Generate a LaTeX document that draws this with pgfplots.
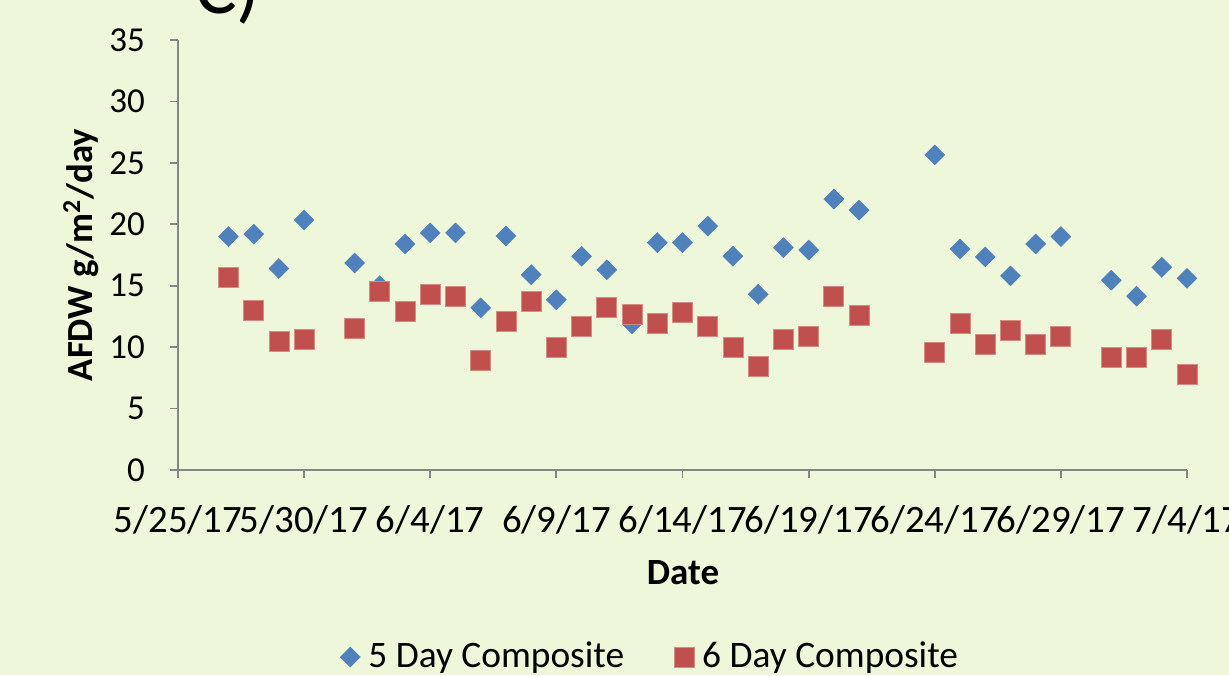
\documentclass[border=0pt]{standalone}
\usepackage{fontspec}
\setmainfont{Carlito}
\usepackage{pgfplots}
\pgfplotsset{compat=1.18}
\definecolor{bg}{RGB}{238,247,218}
\definecolor{bl}{RGB}{79,129,189}
\definecolor{rd}{RGB}{192,80,77}
\definecolor{rdb}{RGB}{214,140,130}
\definecolor{axc}{RGB}{134,134,134}
\begin{document}
\fontsize{17.5}{21}\selectfont
\begin{tikzpicture}
\clip (0,0) rectangle (614.5pt,337.5pt);
\fill[bg] (0,0) rectangle (614.5pt,337.5pt);
\node[anchor=base west, font=\fontsize{39}{44}\selectfont, inner sep=0] at (97.5pt,330.5pt) {C)};
\begin{axis}[
  at={(89pt,102.5pt)}, anchor=south west,
  scale only axis, width=504.5pt, height=215pt,
  xmin=0, xmax=40, ymin=0, ymax=35,
  axis lines*=left,
  axis line style={-, draw=axc, line width=0.9pt},
  tick align=outside, major tick length=4pt,
  tick style={draw=axc, line width=0.9pt},
  xtick={0,5,...,40},
  xticklabels={5/25/17,5/30/17,6/4/17,6/9/17,6/14/17,6/19/17,6/24/17,6/29/17,7/4/17},
  ytick={0,5,...,35},
  /pgf/number format/assume math mode=true,
  xticklabel style={font=\fontsize{19.4}{23}\selectfont, anchor=base, yshift=-27pt},
  yticklabel style={font=\fontsize{17.5}{21}\selectfont, xshift=-6.5pt},
  xlabel={\textbf{Date}},
  ylabel={\textbf{AFDW g/m\textsuperscript{2}/day}},
  every axis x label/.style={at={(axis description cs:0.5005,-0.2395)}, anchor=center, font=\fontsize{18.5}{22}\selectfont},
  every axis y label/.style={at={(axis description cs:-0.096,0.5)}, anchor=center, rotate=90, font=\fontsize{18.4}{22}\selectfont},
  legend style={at={(axis description cs:0.469,-0.435)}, anchor=center, draw=none, fill=none, legend columns=2,
    font=\fontsize{18.7}{22}\selectfont,
    /tikz/every even column/.append style={column sep=23pt}},
  legend cell align=left,
]
\addplot[only marks, mark=square*, mark size=3.54pt, mark options={rotate=45, fill=bl, draw=bl, line width=0.2pt}] coordinates {
(2,19.0) (3,19.2) (4,16.4) (5,20.35) (7,16.85) (8,15.0) (9,18.4) (10,19.3) (11,19.3)
(12,13.2) (13,19.05) (14,15.9) (15,13.85) (16,17.4) (17,16.3) (18,11.9) (19,18.5)
(20,18.5) (21,19.85) (22,17.4) (23,14.3) (24,18.1) (25,17.9) (26,22.05) (27,21.15)
(30,25.65) (31,18.0) (32,17.35) (33,15.8) (34,18.4) (35,19.0) (37,15.45) (38,14.15)
(39,16.5) (40,15.6)
};
\addlegendentry{\hspace{2pt}5 Day Composite}
\addplot[only marks, mark=square*, mark size=5pt, mark options={fill=rd, draw=rdb, line width=0.4pt}] coordinates {
(2,15.7) (3,13.0) (4,10.5) (5,10.6) (7,11.5) (8,14.5) (9,12.9) (10,14.3) (11,14.15)
(12,8.95) (13,12.1) (14,13.75) (15,10.0) (16,11.65) (17,13.25) (18,12.7) (19,11.95)
(20,12.8) (21,11.7) (22,9.95) (23,8.45) (24,10.6) (25,10.9) (26,14.1) (27,12.55)
(30,9.6) (31,11.9) (32,10.25) (33,11.4) (34,10.2) (35,10.9) (37,9.2) (38,9.2)
(39,10.6) (40,7.75)
};
\addlegendentry{\hspace{2pt}6 Day Composite}
\end{axis}
\end{tikzpicture}
\end{document}
